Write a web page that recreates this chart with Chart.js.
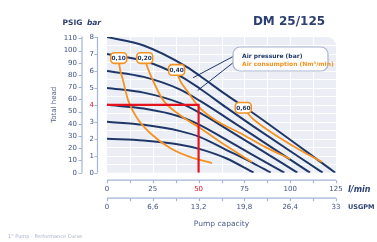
<!DOCTYPE html>
<html>
<head>
<meta charset="utf-8">
<script src="https://cdn.jsdelivr.net/npm/chart.js@4.4.1/dist/chart.umd.min.js"></script>
<style>
  html, body { margin: 0; padding: 0; background: #ffffff; }
</style>
</head>
<body>
<canvas id="myChart" width="377" height="242"></canvas>
<script>
// axis ticks
var flowTicks = [0, 25, 50, 75, 100, 125];
var gpmTicks = [0, 6.6, 13.2, 19.8, 26.4, 33];
var gpmLabels = ["0", "6,6", "13,2", "19,8", "26,4", "33"];
var barTicks = [0, 1, 2, 3, 4, 5, 6, 7, 8];
var psiTicks = [0, 10, 20, 30, 40, 50, 60, 70, 80, 90, 100, 110];

// air pressure curves (l/min, bar)
var press2 = [[0, 2], [20, 1.9], [40, 1.65], [50.8, 1.39], [65, 0.85], [80, 0]];
var press3 = [[0, 3], [20, 2.82], [40, 2.45], [50.8, 2.1], [65, 1.35], [79.7, 0.57], [89.4, 0]];
var press4 = [[0, 4], [20, 3.78], [40, 3.3], [50.8, 2.81], [65, 1.95], [79.7, 1.04], [96.8, 0]];
var press5 = [[0, 5], [20, 4.72], [40, 4.1], [50.8, 3.52], [65, 2.6], [79.7, 1.63], [103.9, 0]];
var press6 = [[0, 6], [20, 5.65], [40, 4.9], [50.8, 4.23], [65, 3.25], [79.7, 2.22], [110.8, 0]];
var press7 = [[0, 7], [20, 6.6], [40, 5.7], [50.8, 4.95], [65, 3.85], [79.7, 2.75], [117.7, 0]];
var press8 = [[0, 8], [20, 7.5], [43.7, 6.23], [50.8, 5.7], [65, 4.6], [79.7, 3.52], [124.6, 0]];

// air consumption curves (Nm3/min), first point is where the tag sits
var air010 = [[6.4, 6.76], [6.8, 6.3], [8.7, 5.47], [11.5, 4.28], [16.4, 3.22], [23.5, 2.34], [34.4, 1.46], [45.3, 0.93], [57.3, 0.57]];
var air020 = [[20.6, 6.76], [21.8, 6.3], [26.2, 5.17], [30.6, 4.28], [39.8, 3.4], [50.8, 2.63], [64.4, 1.63], [79.1, 0.63]];
var air040 = [[38.0, 6.06], [38.8, 5.7], [44.2, 4.76], [49.7, 3.93], [59.0, 3.11], [72.6, 2.34], [86.2, 1.52], [99.9, 0.81]];
var air060 = [[74.4, 3.83], [79.1, 3.23], [86.2, 2.64], [94.4, 2.05], [105.3, 1.34], [117.4, 0.63]];
var airLabels = ["0,10", "0,20", "0,40", "0,60"];

// duty point
var dutyFlow = 50;
var dutyHead = 4;

var NAVY = "#1f3768";
var ORANGE = "#f39323";
var RED = "#e3131f";
var TEXT = "#3f5183";
var AXIS = "#a3b5d8";

function toXY(arr) {
  return arr.map(function (p) { return { x: p[0], y: p[1] }; });
}

var datasets = [];
datasets.push({
  data: [{ x: 0, y: dutyHead }, { x: dutyFlow, y: dutyHead }, { x: dutyFlow, y: 0 }],
  borderColor: RED, borderWidth: 2.2, tension: 0, order: 0
});
[air010, air020, air040, air060].forEach(function (c) {
  datasets.push({ data: toXY(c), borderColor: ORANGE, borderWidth: 1.8, cubicInterpolationMode: "monotone", order: 1 });
});
[press2, press3, press4, press5, press6, press7, press8].forEach(function (c) {
  datasets.push({ data: toXY(c), borderColor: NAVY, borderWidth: 2, cubicInterpolationMode: "monotone", order: 2 });
});

function fixTicks(list) {
  return function (scale) {
    scale.ticks = list.map(function (v) { return { value: v }; });
  };
}

var decor = {
  id: "decor",
  beforeDatasetsDraw: function (chart) {
    var ctx = chart.ctx, a = chart.chartArea;
    var xs = chart.scales.x, ys = chart.scales.y;
    ctx.save();
    ctx.fillStyle = "#eceef5";
    ctx.beginPath();
    if (ctx.roundRect) ctx.roundRect(a.left, a.top, a.right - a.left, a.bottom - a.top, [0, 9, 0, 0]);
    else ctx.rect(a.left, a.top, a.right - a.left, a.bottom - a.top);
    ctx.fill();
    ctx.clip();
    ctx.strokeStyle = "#ffffff";
    ctx.lineWidth = 1;
    for (var f = 12.5; f < 125; f += 12.5) {
      var px = Math.round(xs.getPixelForValue(f)) + 0.5;
      ctx.beginPath(); ctx.moveTo(px, a.top); ctx.lineTo(px, a.bottom); ctx.stroke();
    }
    for (var b = 0.5; b < 8; b += 0.5) {
      var py = Math.round(ys.getPixelForValue(b)) + 0.5;
      ctx.beginPath(); ctx.moveTo(a.left, py); ctx.lineTo(a.right, py); ctx.stroke();
    }
    ctx.restore();
  },
  afterDatasetsDraw: function (chart) {
    var ctx = chart.ctx;
    var xs = chart.scales.x, ys = chart.scales.y;
    ctx.save();
    // tags on the air consumption curves
    [air010, air020, air040, air060].forEach(function (c, i) {
      var cx = xs.getPixelForValue(c[0][0]), cy = ys.getPixelForValue(c[0][1]);
      ctx.beginPath();
      ctx.roundRect(cx - 8, cy - 5.3, 16, 10.6, 3.5);
      ctx.fillStyle = "#ffffff"; ctx.fill();
      ctx.strokeStyle = ORANGE; ctx.lineWidth = 1.6; ctx.stroke();
      ctx.fillStyle = NAVY;
      ctx.font = "bold 5.8px 'DejaVu Sans'";
      ctx.textAlign = "center"; ctx.textBaseline = "middle";
      ctx.fillText(airLabels[i], cx, cy + 0.5);
    });

    // legend box with pointer lines
    var bx = 233, by = 47, bw = 95, bh = 24;
    ctx.strokeStyle = NAVY; ctx.lineWidth = 1;
    ctx.beginPath();
    ctx.moveTo(bx + 1, by + 9); ctx.lineTo(xs.getPixelForValue(47), ys.getPixelForValue(5.6));
    ctx.moveTo(bx + 1, by + 15); ctx.lineTo(xs.getPixelForValue(49.5), ys.getPixelForValue(4.85));
    ctx.stroke();
    ctx.beginPath();
    ctx.roundRect(bx, by, bw, bh, 7);
    ctx.fillStyle = "#ffffff"; ctx.fill();
    ctx.strokeStyle = "#a9b4cf"; ctx.lineWidth = 1.2; ctx.stroke();
    ctx.textAlign = "left"; ctx.textBaseline = "middle";
    ctx.font = "bold 6px 'DejaVu Sans'";
    ctx.fillStyle = NAVY;
    ctx.fillText("Air pressure (bar)", bx + 9, by + 9);
    ctx.fillStyle = ORANGE;
    ctx.fillText("Air consumption (Nm\u00b3/min)", bx + 9, by + 17);
    ctx.restore();
  },
  afterDraw: function (chart) {
    var ctx = chart.ctx, a = chart.chartArea;
    var xs = chart.scales.x, x2 = chart.scales.x2, ys = chart.scales.y, yp = chart.scales.yPsi;
    ctx.save();
    ctx.strokeStyle = AXIS; ctx.lineWidth = 1.2;
    // l/min axis
    var ly = a.bottom + 7.5;
    ctx.beginPath();
    ctx.moveTo(xs.getPixelForValue(0), ly); ctx.lineTo(xs.getPixelForValue(125), ly);
    for (var f = 0; f <= 125; f += 12.5) {
      var px = Math.round(xs.getPixelForValue(f)) + 0.5;
      ctx.moveTo(px, ly); ctx.lineTo(px, ly + 3);
    }
    // USGPM axis
    var gy = a.bottom + 25.5;
    ctx.moveTo(x2.getPixelForValue(0), gy); ctx.lineTo(x2.getPixelForValue(33), gy);
    for (var g = 0; g <= 33.01; g += 3.3) {
      var gx = Math.round(x2.getPixelForValue(g)) + 0.5;
      ctx.moveTo(gx, gy); ctx.lineTo(gx, gy + 3);
    }
    // bar axis
    var bxl = a.left - 9.5;
    ctx.moveTo(bxl, ys.getPixelForValue(0)); ctx.lineTo(bxl, ys.getPixelForValue(8));
    barTicks.forEach(function (b) {
      var py = Math.round(ys.getPixelForValue(b)) + 0.5;
      ctx.moveTo(bxl - 3, py); ctx.lineTo(bxl, py);
    });
    // PSIG axis
    var pxl = a.left - 25;
    ctx.moveTo(pxl, yp.getPixelForValue(0)); ctx.lineTo(pxl, yp.getPixelForValue(110) - 2);
    psiTicks.forEach(function (p) {
      var py = Math.round(yp.getPixelForValue(p)) + 0.5;
      ctx.moveTo(pxl - 3.5, py); ctx.lineTo(pxl, py);
    });
    ctx.stroke();

    // titles and units
    ctx.fillStyle = "#2c3f73";
    ctx.textBaseline = "middle";
    ctx.textAlign = "center";
    ctx.font = "bold 12px 'DejaVu Sans'";
    ctx.fillText("DM 25/125", 289, 21.5);
    ctx.font = "bold 7.5px 'DejaVu Sans'";
    ctx.fillText("PSIG", 72.5, 23.5);
    ctx.font = "italic bold 7.5px 'DejaVu Sans'";
    ctx.fillText("bar", 94, 23.5);
    ctx.textAlign = "left";
    ctx.font = "italic bold 8px 'DejaVu Sans'";
    ctx.fillText("l/min", 348, 189.5);
    ctx.font = "bold 6.5px 'DejaVu Sans'";
    ctx.fillText("USGPM", 348, 207);
    ctx.fillStyle = "#a7b0c9";
    ctx.font = "5px 'DejaVu Sans'";
    ctx.fillText("1\u00b0 Pump - Performance Curve", 8, 236.5);
    ctx.restore();
  }
};

var ctx = document.getElementById("myChart").getContext("2d");
var myChart = new Chart(ctx, {
  type: "line",
  data: { datasets: datasets },
  options: {
    responsive: false,
    animation: false,
    events: [],
    layout: { padding: { top: 37, left: 49, right: 41, bottom: 13.7 } },
    plugins: { legend: { display: false }, tooltip: { enabled: false } },
    elements: { point: { radius: 0 } },
    scales: {
      x: {
        type: "linear", position: "bottom", weight: 0, min: 0, max: 125,
        afterBuildTicks: fixTicks(flowTicks),
        afterFit: function (s) { s.height = 22; },
        grid: { display: false, drawTicks: false }, border: { display: false },
        ticks: {
          padding: 12.5, maxRotation: 0, autoSkip: false,
          font: { family: "DejaVu Sans", size: 7 },
          color: function (c) { return c.tick && c.tick.value === dutyFlow ? RED : TEXT; }
        }
      },
      x2: {
        type: "linear", position: "bottom", weight: 1, min: 0, max: 33,
        afterBuildTicks: fixTicks(gpmTicks),
        afterFit: function (s) { s.height = 33.6; },
        grid: { display: false, drawTicks: false }, border: { display: false },
        ticks: {
          padding: 8, maxRotation: 0, autoSkip: false,
          font: { family: "DejaVu Sans", size: 7 }, color: TEXT,
          callback: function (v, i) { return gpmLabels[i]; }
        },
        title: { display: true, text: "Pump capacity", color: "#4c5d8c", padding: 0,
          font: { family: "DejaVu Sans", size: 7.5 } }
      },
      y: {
        type: "linear", position: "left", weight: 0, min: 0, max: 8,
        afterBuildTicks: fixTicks(barTicks),
        afterFit: function (s) { s.width = 22; },
        grid: { display: false, drawTicks: false }, border: { display: false },
        ticks: {
          padding: 13, autoSkip: false,
          font: { family: "DejaVu Sans", size: 7 },
          color: function (c) { return c.tick && c.tick.value === dutyHead ? RED : TEXT; }
        }
      },
      yPsi: {
        type: "linear", position: "left", weight: 1, min: 0, max: 111.2,
        afterBuildTicks: fixTicks(psiTicks),
        afterFit: function (s) { s.width = 36; },
        grid: { display: false, drawTicks: false }, border: { display: false },
        ticks: {
          padding: 8, autoSkip: false,
          font: { family: "DejaVu Sans", size: 7 }, color: TEXT
        },
        title: { display: true, text: "Total head", color: "#56638a", padding: 1,
          font: { family: "DejaVu Sans", size: 7 } }
      }
    }
  },
  plugins: [decor]
});
</script>
</body>
</html>
